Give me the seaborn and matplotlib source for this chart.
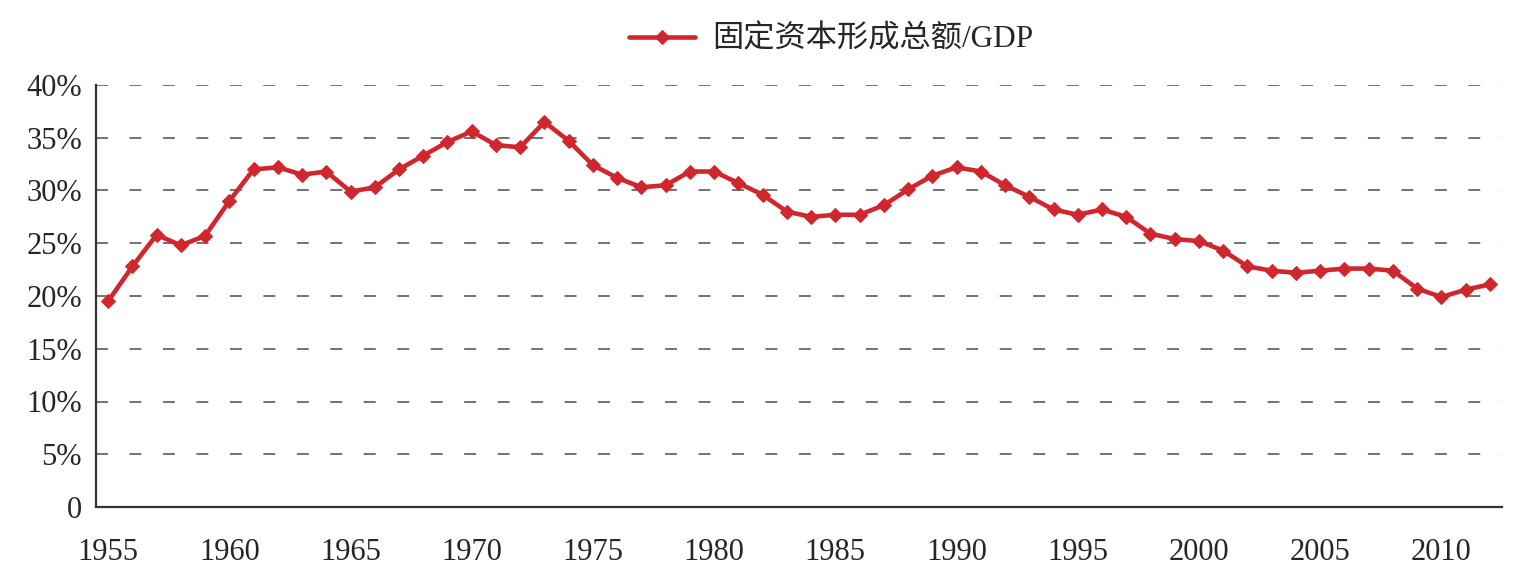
import numpy as np
import pandas as pd
import matplotlib
matplotlib.use('Agg')
import matplotlib.pyplot as plt
import seaborn as sns
from matplotlib.ticker import FixedLocator, FuncFormatter

# datos (% del PIB)
years = list(range(1955, 2013))
ratio = [19.5, 22.8, 25.8, 24.8, 25.7, 29.0, 32.0, 32.2, 31.5, 31.8,
         29.9, 30.3, 32.0, 33.3, 34.6, 35.6, 34.3, 34.1, 36.5, 34.7,
         32.4, 31.2, 30.3, 30.5, 31.8, 31.8, 30.7, 29.6, 28.0, 27.5,
         27.7, 27.7, 28.6, 30.1, 31.4, 32.2, 31.8, 30.5, 29.4, 28.2,
         27.7, 28.2, 27.5, 25.9, 25.4, 25.2, 24.3, 22.8, 22.4, 22.2,
         22.4, 22.6, 22.6, 22.4, 20.7, 19.9, 20.6, 21.1]
serie = '固定资本形成总额/GDP'
label_years = list(range(1955, 2015, 5))
y_ticks = [0, 5, 10, 15, 20, 25, 30, 35, 40]

df = pd.DataFrame({'anio': years, 'valor': np.array(ratio) / 100, 'serie': serie})

sns.set_style('white')
plt.rcParams['font.family'] = ['Liberation Serif', 'Noto Sans CJK SC']
plt.rcParams['lines.scale_dashes'] = False

fig = plt.figure(figsize=(15.3, 5.86), dpi=100)
ax = fig.add_axes([96 / 1530, 1 - 507 / 586, (1502 - 96) / 1530, (507 - 85) / 586])

rojo = '#d0262d'
sns.lineplot(data=df, x='anio', y='valor', hue='serie', palette=[rojo], ax=ax,
             marker='D', markersize=7.5, markeredgecolor=rojo, linewidth=3.3, zorder=3)

ax.set_xlim(1954.5, 2012.5)
ax.set_ylim(0, 0.40)

# ticks entre categorias, etiquetas en el centro (estilo excel)
ax.xaxis.set_major_locator(FixedLocator([y - 0.5 for y in label_years[1:]]))
ax.xaxis.set_minor_locator(FixedLocator(label_years))
ax.xaxis.set_major_formatter(FuncFormatter(lambda v, p: ''))
ax.xaxis.set_minor_formatter(FuncFormatter(lambda v, p: '%d' % round(v)))
ax.tick_params(axis='x', which='major', direction='in', length=7, width=1.3, color='#333333')
ax.tick_params(axis='x', which='minor', length=0, pad=22, labelsize=22)

ax.set_yticks([t / 100 for t in y_ticks])
ax.yaxis.set_major_formatter(FuncFormatter(lambda v, p: '0' if v == 0 else '%d%%' % round(v * 100)))
ax.tick_params(axis='y', direction='in', length=7, width=1.3, color='#333333', pad=10, labelsize=22)

ax.yaxis.grid(True, linestyle=(0, (8.6, 15.5)), color='#4d4d4d', linewidth=1.1)
ax.xaxis.grid(False)
ax.set_axisbelow(True)

for s in ['top', 'right']:
    ax.spines[s].set_visible(False)
for s in ['left', 'bottom']:
    ax.spines[s].set_color('#333333')
    ax.spines[s].set_linewidth(1.6)

ax.set_xlabel('')
ax.set_ylabel('')

ax.legend_.remove()
handles, labels = ax.get_legend_handles_labels()
fig.legend(handles, labels, loc='center', bbox_to_anchor=(831 / 1530, 1 - 40 / 586),
           frameon=False, fontsize=22.5, handlelength=2.1, handletextpad=0.55)

fig.savefig('out.png', dpi=100)
